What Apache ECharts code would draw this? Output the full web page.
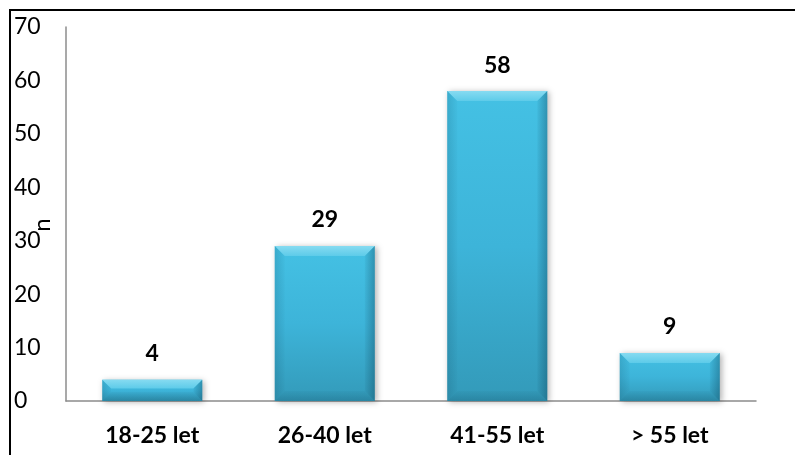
<!DOCTYPE html>
<html>
<head>
<meta charset="utf-8">
<script src="https://cdn.jsdelivr.net/npm/echarts@6/dist/echarts.min.js"></script>
<style>
  html, body { margin: 0; padding: 0; background: #fff; }
  #chart { width: 795px; height: 455px; }
</style>
</head>
<body>
<div id="chart"></div>
<script>
// Age groups and respondent counts
const categories = ['18-25 let', '26-40 let', '41-55 let', '> 55 let'];
const counts = [4, 29, 58, 9];
const yTicks = [0, 10, 20, 30, 40, 50, 60, 70];

const FONT = 'Lato, "Open Sans", sans-serif';

const chart = echarts.init(document.getElementById('chart'), null, { renderer: 'canvas' });

// Bevelled column: shaded face plus four edge facets
function renderBevelBar(params, api) {
  const idx = api.value(0);
  const val = api.value(1);
  const top = api.coord([idx, val]);
  const base = api.coord([idx, 0]);
  const bw = api.size([1, 0])[0] * 0.58;
  const x0 = top[0] - bw / 2, x1 = top[0] + bw / 2;
  const y0 = top[1], y1 = base[1];
  const h = y1 - y0;
  const b = Math.min(10, h / 2.4);
  const poly = (pts, fill) => ({ type: 'polygon', shape: { points: pts }, style: { fill: fill } });
  const G = echarts.graphic.LinearGradient;
  return {
    type: 'group',
    children: [
      {
        type: 'rect',
        shape: { x: x0, y: y0, width: bw, height: h },
        style: {
          fill: new G(0, 0, 0, 1, [
            { offset: 0, color: '#44c1e4' }, { offset: 0.5, color: '#3db4d9' }, { offset: 1, color: '#339ab9' }]),
          shadowBlur: 6, shadowOffsetX: 2, shadowOffsetY: 1,
          shadowColor: 'rgba(0,0,0,0.3)'
        }
      },
      poly([[x0, y0], [x1, y0], [x1 - b, y0 + b], [x0 + b, y0 + b]],
        new G(0, 0, 0, 1, [
          { offset: 0, color: '#86dbf1' }, { offset: 1, color: '#5dcbe9' }])),
      poly([[x0, y0], [x0 + b, y0 + b], [x0 + b, y1 - b], [x0, y1]],
        new G(0, 0, 1, 0, [
          { offset: 0, color: 'rgba(0,40,60,0.14)' }, { offset: 1, color: 'rgba(0,40,60,0.02)' }])),
      poly([[x1, y0], [x1, y1], [x1 - b, y1 - b], [x1 - b, y0 + b]],
        new G(0, 0, 1, 0, [
          { offset: 0, color: 'rgba(0,40,60,0.04)' }, { offset: 1, color: 'rgba(0,40,60,0.3)' }])),
      poly([[x0, y1], [x0 + b, y1 - b], [x1 - b, y1 - b], [x1, y1]],
        new G(0, 0, 0, 1, [
          { offset: 0, color: 'rgba(0,40,60,0.03)' }, { offset: 1, color: 'rgba(0,40,60,0.18)' }])),
      {
        type: 'text',
        style: {
          text: String(val),
          x: top[0], y: y0 - 26,
          align: 'center', verticalAlign: 'middle',
          font: 'bold 23px ' + FONT, fill: '#000'
        }
      }
    ]
  };
}

chart.setOption({
  animation: false,
  backgroundColor: '#fff',
  grid: { left: 66, right: 39, top: 27, bottom: 54 },
  xAxis: {
    type: 'category',
    data: categories,
    axisLine: { lineStyle: { color: '#8c8c8c', width: 1.5 } },
    axisTick: { show: false },
    axisLabel: { margin: 23, fontSize: 23, fontWeight: 'bold', fontFamily: FONT, color: '#000' }
  },
  yAxis: {
    type: 'value',
    min: 0, max: 70, interval: 10,
    splitLine: { show: false },
    axisLine: { show: true, lineStyle: { color: '#8c8c8c', width: 1.5 } },
    axisTick: { show: false },
    axisLabel: {
      margin: 52, align: 'left', fontSize: 23, fontFamily: FONT, color: '#000',
      formatter: v => (yTicks.indexOf(v) >= 0 ? String(v) : '')
    }
  },
  graphic: [
    { type: 'line', shape: { x1: 9, y1: 10, x2: 795, y2: 10 }, style: { stroke: '#000', lineWidth: 2 } },
    { type: 'line', shape: { x1: 10, y1: 10, x2: 10, y2: 455 }, style: { stroke: '#000', lineWidth: 2 } },
    {
      type: 'text', x: 42, y: 225, rotation: Math.PI / 2,
      style: { text: 'n', font: '24px ' + FONT, fill: '#000', align: 'center', verticalAlign: 'middle' }
    }
  ],
  series: [{
    type: 'custom',
    renderItem: renderBevelBar,
    encode: { x: 0, y: 1 },
    data: counts.map((v, i) => [i, v])
  }]
});
</script>
</body>
</html>
